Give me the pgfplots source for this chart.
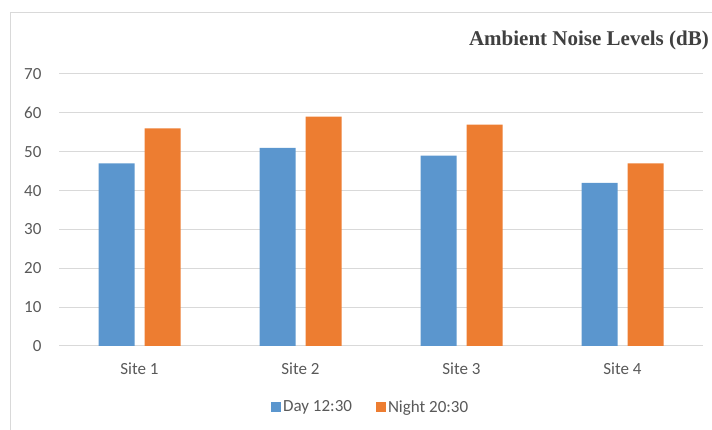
\documentclass[border=0pt]{standalone}
\usepackage{pgfplots}
\pgfplotsset{compat=1.18}
\usepackage{fontspec}
\setmainfont{Carlito}
\newfontfamily\titlefont{Liberation Serif}
\definecolor{barblue}{RGB}{91,150,206}
\definecolor{barorange}{RGB}{237,125,49}
\definecolor{gridgray}{RGB}{217,217,217}
\definecolor{textgray}{RGB}{89,89,89}
\begin{document}
\begin{tikzpicture}
\useasboundingbox (0,0) rectangle (712pt,430pt);
\draw[gridgray, line width=1pt] (10pt,0pt) -- (10pt,417pt) -- (712pt,417pt);
\node[anchor=east, inner sep=0pt, font=\titlefont\bfseries\fontsize{21}{24}\selectfont, text=black!75] at (709pt,390pt) {Ambient Noise Levels (dB)};
\begin{axis}[
  at={(59pt,84pt)}, anchor=south west,
  scale only axis, width=644pt, height=272pt,
  ybar, bar width=36pt,
  xmin=-0.5, xmax=3.5, ymin=0, ymax=70,
  xtick=data, xticklabels={Site 1,Site 2,Site 3,Site 4},
  ytick={0,10,...,70},
  ymajorgrids, grid style={gridgray, line width=1pt},
  axis x line*=bottom, axis y line*=left,
  x axis line style={gridgray, line width=1pt, -},
  y axis line style={draw=none},
  major tick length=0pt,
  tick label style={font=\fontsize{17}{19}\selectfont, text=textgray},
  /pgf/number format/assume math mode=true,
  yticklabel style={xshift=-14pt},
  xticklabel style={yshift=-13pt},
  legend style={at={(0.484,-0.224)}, anchor=center, draw=none, legend columns=2,
     font=\fontsize{17}{19}\selectfont, text=textgray,
     /tikz/every even column/.append style={column sep=22pt}},
  legend image code/.code={\fill[#1] (0pt,-5pt) rectangle (10pt,5pt);},
]
\addplot[fill=barblue, draw=none, bar shift=-23pt] coordinates {(0,47) (1,51) (2,49) (3,42)};
\addplot[fill=barorange, draw=none, bar shift=23pt] coordinates {(0,56) (1,59) (2,57) (3,47)};
\legend{Day 12:30, Night 20:30}
\end{axis}
\end{tikzpicture}
\end{document}
